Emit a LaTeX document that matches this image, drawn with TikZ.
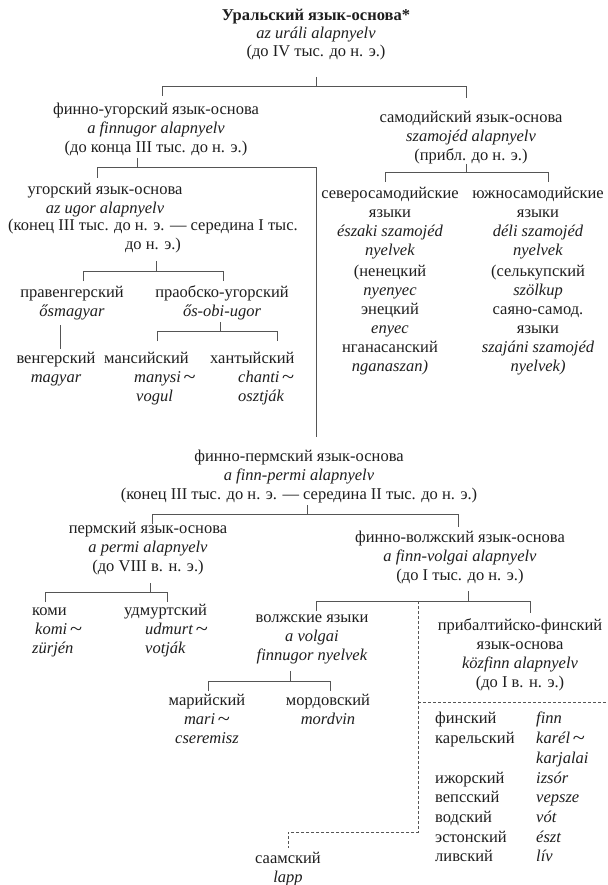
\documentclass[tikz,border=0pt]{standalone}
\usepackage{graphicx}
\usepackage{fontspec}
\setmainfont{Liberation Serif}
\definecolor{ink}{HTML}{1E1E1E}
\definecolor{linec}{HTML}{555555}
\newcommand{\swung}{\,\raisebox{-0.12ex}{\scalebox{1.35}[1.2]{\textasciitilde}}}
\begin{document}
\begin{tikzpicture}[x=1pt,y=-1pt,
  lbl/.style={font=\fontsize{16.5}{19}\selectfont, text=ink, align=center, inner sep=0pt, anchor=north},
  lblL/.style={lbl, align=left, anchor=north west},
  ln/.style={draw=linec, line width=0.7pt},
  dln/.style={draw=linec, line width=0.6pt, dash pattern=on 3pt off 2pt}]
\useasboundingbox (0,0) rectangle (607,885);
\fill[white] (0,0) rectangle (607,885);

% ---------- nodes ----------
\node[lbl, font=\fontsize{16.5}{18}\selectfont] (title) at (316,8) {\strut\textbf{Уральский язык-основа*}\\\textit{az uráli alapnyelv}\\(до IV тыс. до н. э.)};
\node[lbl] (fu) at (156,101) {\strut финно-угорский язык-основа\\\textit{a finnugor alapnyelv}\\(до конца III тыс. до н. э.)};
\node[lbl] (sam) at (471,109) {\strut самодийский язык-основа\\\textit{szamojéd alapnyelv}\\(прибл. до н. э.)};
\node[lbl] (ug) at (105,181.3) {\strut угорский язык-основа\\\textit{az ugor alapnyelv}};
\node[lbl] (ugd) at (153,219.3) {(конец III тыс. до н. э. — середина I тыс.\\до н. э.)};
\node[lbl] (pv) at (72,284.3) {\strut правенгерский\\\textit{ősmagyar}};
\node[lbl] (pou) at (222,284.3) {\strut праобско-угорский\\\textit{ős-obi-ugor}};
\node[lbl] (ve) at (56,350.3) {\strut венгерский\\\textit{magyar}};
\node[lblL] (ma) at (104,350.3) {\strut мансийский\\\hspace*{30pt}\textit{manysi}\swung\\\hspace*{32pt}\textit{vogul}};
\node[lblL] (kh) at (210,350.3) {\strut хантыйский\\\hspace*{28pt}\textit{chanti}\swung\\\hspace*{28pt}\textit{osztják}};
\node[lbl] (ns) at (390,185.3) {\strut северосамодийские\\языки\\\textit{északi szamojéd}\\\textit{nyelvek}};
\node[lbl] (ns2) at (390,265) {(ненецкий\\\textit{nyenyec}\\энецкий\\\textit{enyec}\\нганасанский\\\textit{nganaszan)}};
\node[lbl] (ss) at (538,185.3) {\strut южносамодийские\\языки\\\textit{déli szamojéd}\\\textit{nyelvek}};
\node[lbl] (ss2) at (538,265) {(селькупский\\\textit{szölkup}\\саяно-самод.\\языки\\\textit{szajáni szamojéd}\\\textit{nyelvek)}};
\node[lbl] (fp) at (299,448) {\strut финно-пермский язык-основа\\\textit{a finn-permi alapnyelv}\\(конец III тыс. до н. э. — середина II тыс. до н. э.)};
\node[lbl] (perm) at (148,520) {\strut пермский язык-основа\\\textit{a permi alapnyelv}\\(до VIII в. н. э.)};
\node[lbl] (fv) at (460,529) {\strut финно-волжский язык-основа\\\textit{a finn-volgai alapnyelv}\\(до I тыс. до н. э.)};
\node[lblL] (komi) at (32,602) {\strut коми\\\hspace*{3pt}\textit{komi}\swung\\\textit{zürjén}};
\node[lblL] (udm) at (124,602) {\strut удмуртский\\\hspace*{21pt}\textit{udmurt}\swung\\\hspace*{21pt}\textit{votják}};
\node[lbl] (volg) at (312,609) {\strut волжские языки\\\textit{a volgai}\\\textit{finnugor nyelvek}};
\node[lbl] (bf) at (520,617) {\strut прибалтийско-финский\\язык-основа\\\textit{közfinn alapnyelv}\\(до I в. н. э.)};
\node[lbl] (mari) at (207,692) {\strut марийский\\\textit{mari}\swung\\\textit{cseremisz}};
\node[lbl] (mord) at (328,692) {\strut мордовский\\\textit{mordvin}};
\node[lblL, font=\fontsize{16.5}{19.7}\selectfont] (fcyr) at (435,710) {\strut финский\\карельский\\\mbox{}\\ижорский\\вепсский\\водский\\эстонский\\ливский};
\node[lblL, font=\fontsize{16.5}{19.7}\selectfont] (flat) at (536,710) {\strut\textit{finn}\\\textit{karél}\swung\\\textit{karjalai}\\\textit{izsór}\\\textit{vepsze}\\\textit{vót}\\\textit{észt}\\\textit{lív}};
\node[lbl, font=\fontsize{16.5}{19}\selectfont] (saam) at (288,850) {\strut саамский\\\textit{lapp}};

% ---------- bracket coordinates ----------
\coordinate (t0) at (316,77);  \coordinate (t1) at (316,86);
\coordinate (tL) at (162,86);  \coordinate (tR) at (466,86);
\coordinate (tL2) at (162,96); \coordinate (tR2) at (466,98);

\coordinate (f0) at (137,158); \coordinate (f1) at (137,167);
\coordinate (fL) at (97,167);  \coordinate (fR) at (316,167);
\coordinate (fL2) at (97,178); \coordinate (fR2) at (316,437);

\coordinate (s0) at (466,164); \coordinate (s1) at (466,172);
\coordinate (sL) at (385,172); \coordinate (sR) at (548,172);
\coordinate (sL2) at (385,182); \coordinate (sR2) at (548,182);

\coordinate (u0) at (156,261); \coordinate (u1) at (156,271);
\coordinate (uL) at (83,271);  \coordinate (uR) at (223,271);
\coordinate (uL2) at (83,281); \coordinate (uR2) at (223,281);

\coordinate (h0) at (60,325);  \coordinate (h1) at (60,349);

\coordinate (o0) at (220,322); \coordinate (o1) at (220,331);
\coordinate (oL) at (157,331); \coordinate (oR) at (277,331);
\coordinate (oL2) at (157,341); \coordinate (oR2) at (277,341);

\coordinate (p0) at (307,505); \coordinate (p1) at (307,514);
\coordinate (pL) at (152,514); \coordinate (pR) at (458,514);
\coordinate (pL2) at (152,524); \coordinate (pR2) at (458,527);

\coordinate (m0) at (150,583); \coordinate (m1) at (150,592);
\coordinate (mL) at (45,592);  \coordinate (mR) at (167,592);
\coordinate (mL2) at (45,602); \coordinate (mR2) at (167,602);

\coordinate (v0) at (468,591); \coordinate (v1) at (468,601);
\coordinate (vL) at (316,601); \coordinate (vR) at (530,601);
\coordinate (vL2) at (316,611); \coordinate (vR2) at (530,613);
\coordinate (vD) at (418,601); \coordinate (vD2) at (418,832);
\coordinate (vD3) at (288,832); \coordinate (vD4) at (288,848);
\coordinate (bS) at (418,702); \coordinate (bS2) at (607,702);

\coordinate (w0) at (290,671); \coordinate (w1) at (290,681);
\coordinate (wL) at (208,681); \coordinate (wR) at (330,681);
\coordinate (wL2) at (208,691); \coordinate (wR2) at (330,691);

% ---------- connectors ----------
\draw[ln] (t0) -- (t1);  \draw[ln] (tL2) -- (tL) -- (tR) -- (tR2);
\draw[ln] (f0) -- (f1);  \draw[ln] (fL2) -- (fL) -- (fR) -- (fR2);
\draw[ln] (s0) -- (s1);  \draw[ln] (sL2) -- (sL) -- (sR) -- (sR2);
\draw[ln] (u0) -- (u1);  \draw[ln] (uL2) -- (uL) -- (uR) -- (uR2);
\draw[ln] (h0) -- (h1);
\draw[ln] (o0) -- (o1);  \draw[ln] (oL2) -- (oL) -- (oR) -- (oR2);
\draw[ln] (p0) -- (p1);  \draw[ln] (pL2) -- (pL) -- (pR) -- (pR2);
\draw[ln] (m0) -- (m1);  \draw[ln] (mL2) -- (mL) -- (mR) -- (mR2);
\draw[ln] (v0) -- (v1);  \draw[ln] (vL2) -- (vL) -- (vR) -- (vR2);
\draw[ln] (w0) -- (w1);  \draw[ln] (wL2) -- (wL) -- (wR) -- (wR2);
\draw[dln] (vD) -- (vD2) -- (vD3) -- (vD4);
\draw[dln] (bS) -- (bS2);
\end{tikzpicture}
\end{document}
